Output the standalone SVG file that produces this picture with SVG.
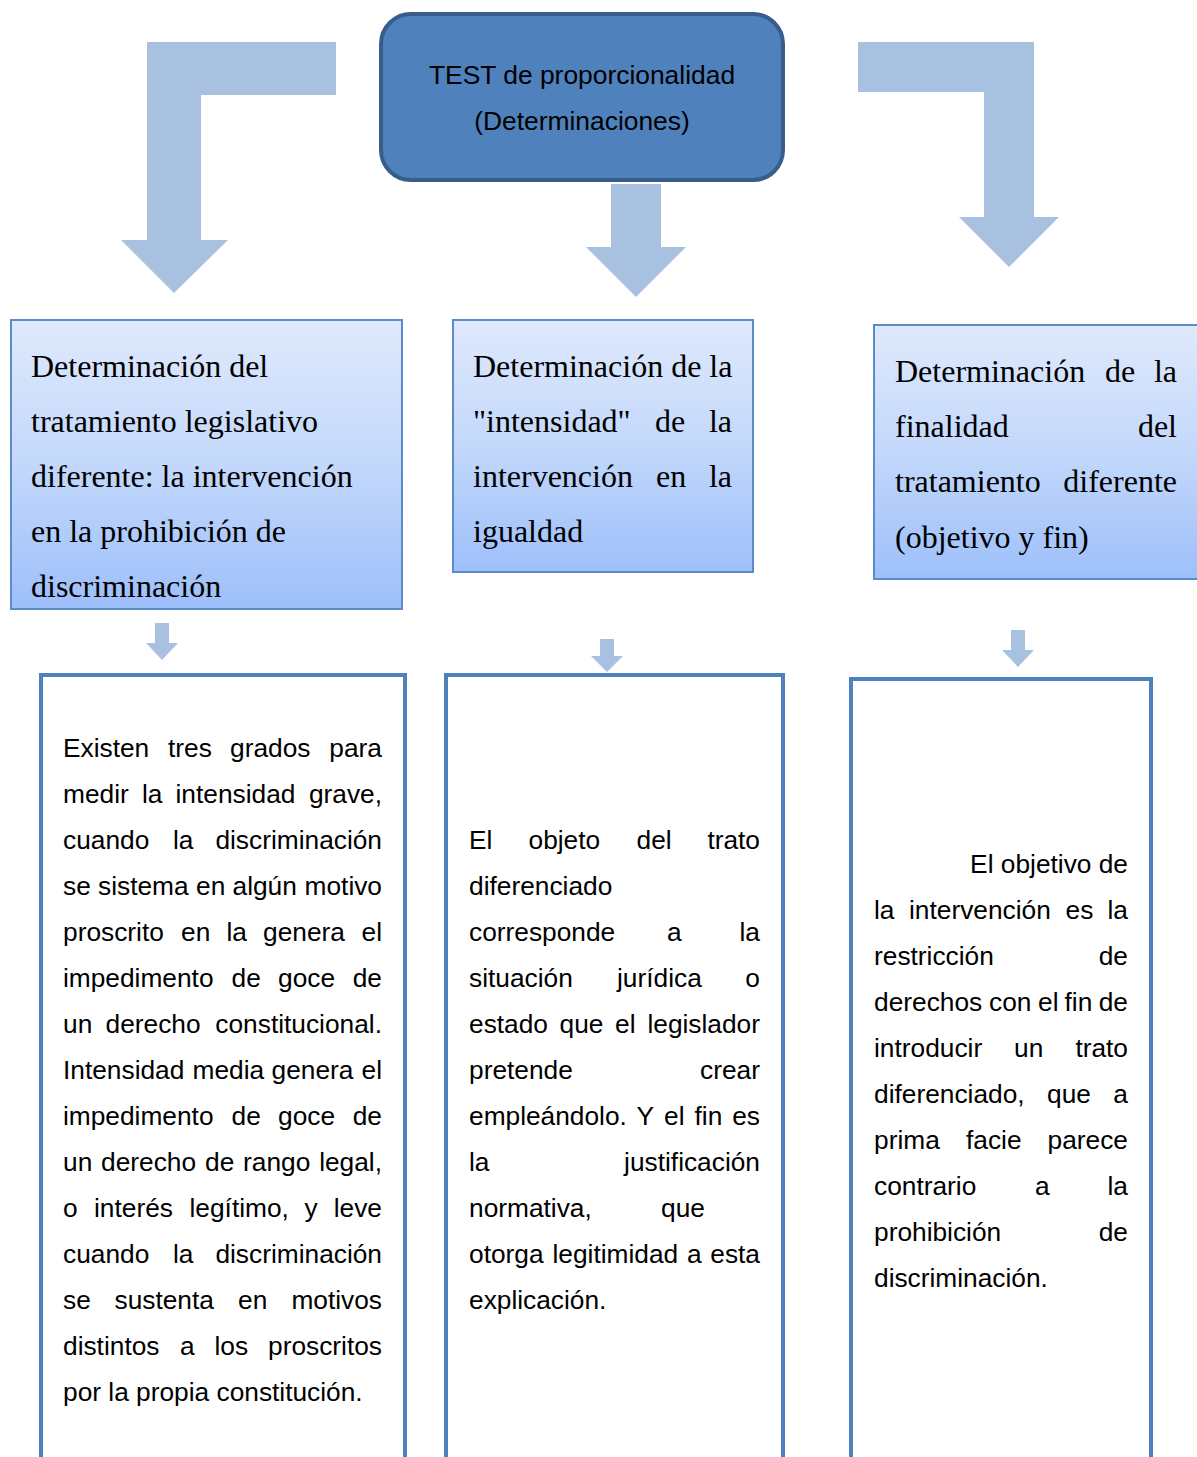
<svg xmlns="http://www.w3.org/2000/svg" width="1197" height="1457" viewBox="0 0 1197 1457">
<defs>
<linearGradient id="blueGrad" x1="0" y1="0" x2="0" y2="1">
<stop offset="0" stop-color="#DFE9FC"/>
<stop offset="0.5" stop-color="#C3D8FB"/>
<stop offset="1" stop-color="#9DBFFA"/>
</linearGradient>
<style>
.bigArrow{fill:#A8C1E0;}
.smallArrow{fill:#A8C1E0;}
.gbox{fill:url(#blueGrad);stroke:#5B8BC9;stroke-width:2;}
.obox{fill:#FFFFFF;stroke:#4F81BD;stroke-width:4;}
.serif{font-family:"Liberation Serif","Times New Roman",serif;font-size:32px;fill:#000;}
.sans{font-family:"Liberation Sans",Arial,sans-serif;font-size:26.3px;fill:#000;}
.title{font-family:"Liberation Sans",Arial,sans-serif;font-size:26.4px;fill:#000;text-anchor:middle;}
.e{text-anchor:end;}
</style>
</defs>
<rect width="1197" height="1457" fill="#FFFFFF"/>

<g id="connectors">
<path class="bigArrow" d="M336,42 L147,42 L147,240 L121,240 L174,293 L228,240 L201,240 L201,95 L336,95 Z"/>
<path class="bigArrow" d="M858,42 L1034,42 L1034,217 L1059,217 L1009,267 L959,217 L984,217 L984,92 L858,92 Z"/>
<path class="bigArrow" d="M611,184 L661,184 L661,247 L686,247 L636,297 L586,247 L611,247 Z"/>
<path class="smallArrow" d="M155,623 L169,623 L169,643 L178,643 L162,660 L146,643 L155,643 Z"/>
<path class="smallArrow" d="M600,639 L614,639 L614,656 L623,656 L607,672 L591,656 L600,656 Z"/>
<path class="smallArrow" d="M1011,630 L1025,630 L1025,650 L1034,650 L1018,667 L1002,650 L1011,650 Z"/>
</g>

<g id="node-test">
<rect x="381" y="14" width="402" height="166" rx="30" ry="30" fill="#4F81BD" stroke="#385D8A" stroke-width="4"/>
<text class="title" x="582" y="84">TEST de proporcionalidad</text>
<text class="title" x="582" y="130">(Determinaciones)</text>
</g>

<g id="node-det1">
<rect class="gbox" x="11" y="320" width="391" height="289"/>
<text class="serif" x="31" y="377">Determinación del</text>
<text class="serif" x="31" y="432">tratamiento legislativo</text>
<text class="serif" x="31" y="487">diferente: la intervención</text>
<text class="serif" x="31" y="542">en la prohibición de</text>
<text class="serif" x="31" y="597">discriminación</text>
</g>

<g id="node-det2">
<rect class="gbox" x="453" y="320" width="300" height="252"/>
<text class="serif" x="473" y="377">Determinación de la</text>
<text class="serif" y="432"><tspan x="473">"intensidad"</tspan><tspan x="655">de</tspan></text>
<text class="serif e" x="732" y="432">la</text>
<text class="serif" y="487"><tspan x="473">intervención</tspan><tspan x="656">en</tspan></text>
<text class="serif e" x="732" y="487">la</text>
<text class="serif" x="473" y="542">igualdad</text>
</g>

<g id="node-det3">
<rect class="gbox" x="874" y="325" width="340" height="254"/>
<text class="serif" x="895" y="382">Determinación</text>
<text class="serif" x="1105" y="382">de</text>
<text class="serif e" x="1177" y="382">la</text>
<text class="serif" x="895" y="437">finalidad</text>
<text class="serif e" x="1177" y="437">del</text>
<text class="serif" x="895" y="492">tratamiento</text>
<text class="serif e" x="1177" y="492">diferente</text>
<text class="serif" x="895" y="548">(objetivo y fin)</text>
</g>

<g id="node-text1">
<rect class="obox" x="41" y="675" width="364" height="820"/>
<text class="sans" y="757"><tspan x="63">Existen</tspan><tspan x="168">tres</tspan><tspan x="230">grados</tspan></text><text class="sans e" x="382" y="757">para</text>
<text class="sans" y="803"><tspan x="63">medir</tspan><tspan x="142">la</tspan><tspan x="175.5">intensidad</tspan></text><text class="sans e" x="382" y="803">grave,</text>
<text class="sans" y="849"><tspan x="63">cuando</tspan><tspan x="173">la</tspan></text><text class="sans e" x="382" y="849">discriminación</text>
<text class="sans" y="895"><tspan x="63">se</tspan><tspan x="98">sistema</tspan><tspan x="196">en</tspan><tspan x="232.5">algún</tspan></text><text class="sans e" x="382" y="895">motivo</text>
<text class="sans" y="941"><tspan x="63">proscrito</tspan><tspan x="181">en</tspan><tspan x="226.5">la</tspan><tspan x="263">genera</tspan></text><text class="sans e" x="382" y="941">el</text>
<text class="sans" y="987"><tspan x="63">impedimento</tspan><tspan x="231.5">de</tspan><tspan x="278">goce</tspan></text><text class="sans e" x="382" y="987">de</text>
<text class="sans" y="1033"><tspan x="63">un</tspan><tspan x="105.5">derecho</tspan></text><text class="sans e" x="382" y="1033">constitucional.</text>
<text class="sans" y="1079"><tspan x="63">Intensidad</tspan><tspan x="192.5">media</tspan><tspan x="271.5">genera</tspan></text><text class="sans e" x="382" y="1079">el</text>
<text class="sans" y="1125"><tspan x="63">impedimento</tspan><tspan x="231.5">de</tspan><tspan x="278">goce</tspan></text><text class="sans e" x="382" y="1125">de</text>
<text class="sans" y="1171"><tspan x="63">un</tspan><tspan x="101">derecho</tspan><tspan x="205">de</tspan><tspan x="243">rango</tspan></text><text class="sans e" x="382" y="1171">legal,</text>
<text class="sans" y="1217"><tspan x="63">o</tspan><tspan x="94">interés</tspan><tspan x="189.5">legítimo,</tspan><tspan x="304.5">y</tspan></text><text class="sans e" x="382" y="1217">leve</text>
<text class="sans" y="1263"><tspan x="63">cuando</tspan><tspan x="173">la</tspan></text><text class="sans e" x="382" y="1263">discriminación</text>
<text class="sans" y="1309"><tspan x="63">se</tspan><tspan x="114.5">sustenta</tspan><tspan x="238">en</tspan></text><text class="sans e" x="382" y="1309">motivos</text>
<text class="sans" y="1355"><tspan x="63">distintos</tspan><tspan x="180">a</tspan><tspan x="214.5">los</tspan></text><text class="sans e" x="382" y="1355">proscritos</text>
<text class="sans" x="63" y="1401">por la propia constitución.</text>
</g>

<g id="node-text2">
<rect class="obox" x="446" y="675" width="337" height="820"/>
<text class="sans" y="849"><tspan x="469">El</tspan><tspan x="528.5">objeto</tspan><tspan x="636.5">del</tspan></text><text class="sans e" x="760" y="849">trato</text>
<text class="sans" x="469" y="895">diferenciado</text>
<text class="sans" y="941"><tspan x="469">corresponde</tspan><tspan x="667">a</tspan></text><text class="sans e" x="760" y="941">la</text>
<text class="sans" y="987"><tspan x="469">situación</tspan><tspan x="617">jurídica</tspan></text><text class="sans e" x="760" y="987">o</text>
<text class="sans" y="1033"><tspan x="469">estado</tspan><tspan x="559.5">que</tspan><tspan x="615">el</tspan></text><text class="sans e" x="760" y="1033">legislador</text>
<text class="sans" x="469" y="1079">pretende</text><text class="sans e" x="760" y="1079">crear</text>
<text class="sans" y="1125"><tspan x="469">empleándolo.</tspan><tspan x="636.5">Y</tspan><tspan x="664">el</tspan><tspan x="694.5">fin</tspan></text><text class="sans e" x="760" y="1125">es</text>
<text class="sans" x="469" y="1171">la</text><text class="sans e" x="760" y="1171">justificación</text>
<text class="sans" y="1217"><tspan x="469">normativa,</tspan><tspan x="661">que</tspan></text>
<text class="sans" y="1263"><tspan x="469">otorga</tspan><tspan x="552.5">legitimidad</tspan><tspan x="687">a</tspan></text><text class="sans e" x="760" y="1263">esta</text>
<text class="sans" x="469" y="1309">explicación.</text>
</g>

<g id="node-text3">
<rect class="obox" x="851" y="679" width="300" height="820"/>
<text class="sans e" x="1128" y="873">El objetivo de</text>
<text class="sans" y="919"><tspan x="874">la</tspan><tspan x="909">intervención</tspan><tspan x="1065.5">es</tspan></text><text class="sans e" x="1128" y="919">la</text>
<text class="sans" x="874" y="965">restricción</text><text class="sans e" x="1128" y="965">de</text>
<text class="sans" y="1011"><tspan x="874">derechos</tspan><tspan x="989">con</tspan><tspan x="1038">el</tspan><tspan x="1064.5">fin</tspan></text><text class="sans e" x="1128" y="1011">de</text>
<text class="sans" y="1057"><tspan x="874">introducir</tspan><tspan x="1014">un</tspan></text><text class="sans e" x="1128" y="1057">trato</text>
<text class="sans" y="1103"><tspan x="874">diferenciado,</tspan><tspan x="1047">que</tspan></text><text class="sans e" x="1128" y="1103">a</text>
<text class="sans" y="1149"><tspan x="874">prima</tspan><tspan x="966">facie</tspan></text><text class="sans e" x="1128" y="1149">parece</text>
<text class="sans" y="1195"><tspan x="874">contrario</tspan><tspan x="1035">a</tspan></text><text class="sans e" x="1128" y="1195">la</text>
<text class="sans" x="874" y="1241">prohibición</text><text class="sans e" x="1128" y="1241">de</text>
<text class="sans" x="874" y="1287">discriminación.</text>
</g>
</svg>
